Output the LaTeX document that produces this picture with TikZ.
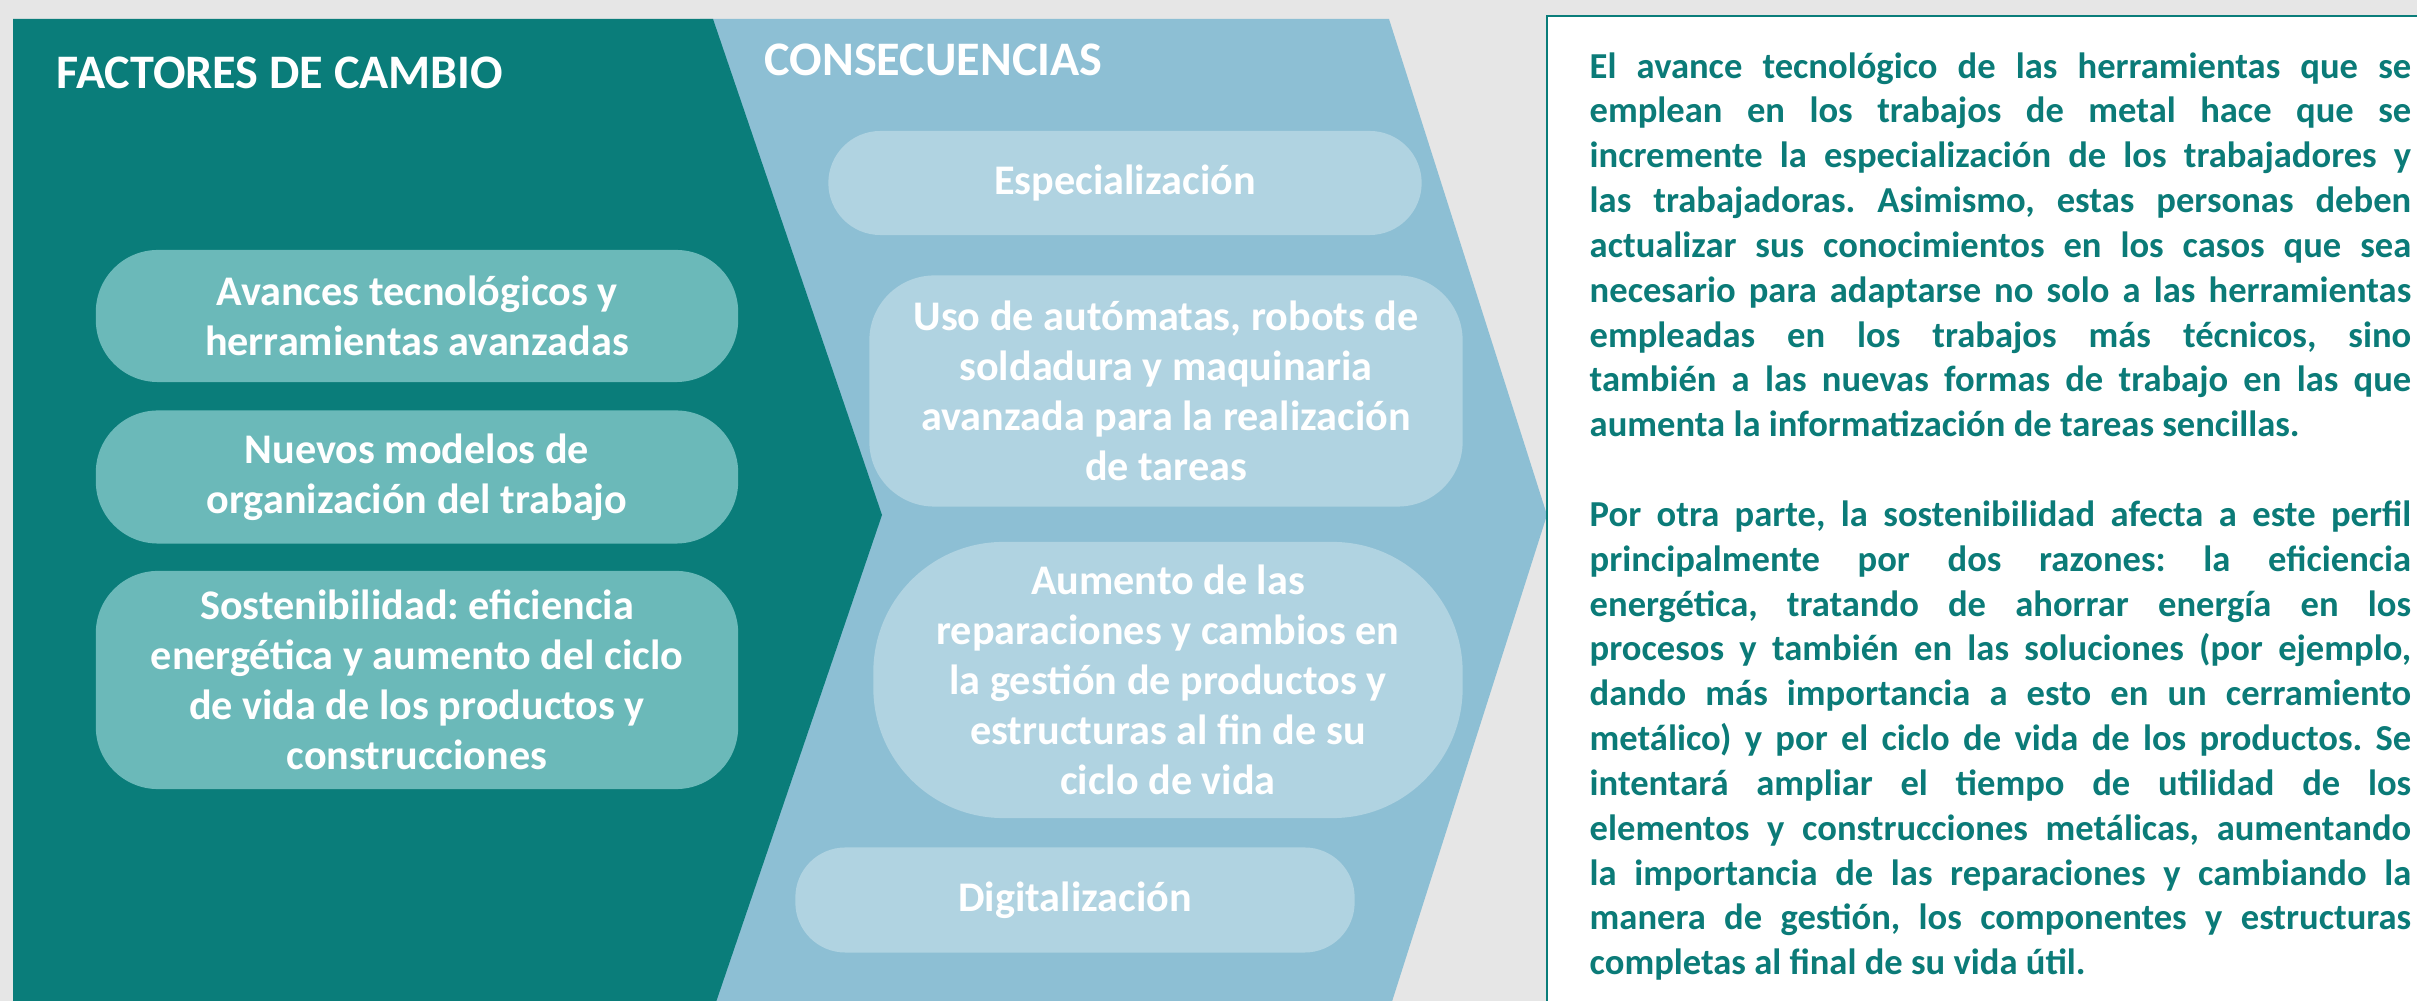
\documentclass[tikz,border=0pt]{standalone}
\usepackage{fontspec}
\setmainfont{Carlito}
\frenchspacing
\usetikzlibrary{positioning}

\definecolor{tealdark}{HTML}{0A7D7A}
\definecolor{bluechev}{HTML}{8DBFD4}
\definecolor{tealbox}{HTML}{6BB9B9}
\definecolor{bluebox}{HTML}{B0D3E1}
\definecolor{greybg}{HTML}{E6E6E6}
\definecolor{tealtext}{HTML}{0B7B78}

\tikzset{
  heading/.style={text=white, anchor=west, inner sep=0pt, font=\fontsize{13.7}{16}\selectfont\bfseries},
  factorbox/.style={fill=tealbox, rounded corners=0.62cm, minimum width=6.42cm, text=white, align=center, font=\fontsize{12}{14.2}\selectfont\bfseries},
  conbox/.style={fill=bluebox, rounded corners=0.6cm, text=white, align=center, font=\fontsize{12}{14.2}\selectfont\bfseries},
  bodytext/.style={text=tealtext, anchor=north west, inner sep=0pt, text width=8.21cm, align=justify, font=\fontsize{10.4}{12.75}\selectfont\bfseries},
}

\begin{document}
\begin{tikzpicture}[x=0.01cm, y=-0.01cm]
% Page with grey background
\path[use as bounding box, fill=greybg] (0,0) rectangle (2417,1001);
\clip (0,0) rectangle (2417,1001);

% Chevrons
\fill[bluechev] (700,19) -- (1389,19) -- (1547,515) -- (1389,1011) -- (700,1011) -- cycle;
\fill[tealdark] (13,19) -- (713,19) -- (882,515) -- (713,1011) -- (13,1011) -- cycle;

% Text frame on the right
\draw[tealdark, line width=0.8pt, fill=white] (1547,16) rectangle (2440,1030);

% Headings
\node[heading] (factores) at (56,73) {FACTORES DE CAMBIO};
\node[heading] (consec) at (764,60) {CONSECUENCIAS};

% Factors of change
\node[factorbox, minimum height=1.32cm] (avances) at (417,316) {Avances tecnológicos y\\herramientas avanzadas};
\node[factorbox, minimum height=1.33cm] (nuevos) at (417,477) {Nuevos modelos de\\organización del trabajo};
\node[factorbox, minimum height=2.18cm] (sosten) at (417,680) {Sostenibilidad: eficiencia\\energética y aumento del ciclo\\de vida de los productos y\\construcciones};

% Consequences
\node[conbox, minimum width=5.93cm, minimum height=1.04cm, rounded corners=0.52cm] (especial) at (1125,183) {Especialización};
\node[conbox, minimum width=5.93cm, minimum height=2.31cm, rounded corners=0.65cm] (automatas) at (1166,391) {Uso de autómatas, robots de\\soldadura y maquinaria\\avanzada para la realización\\de tareas};
\node[conbox, minimum width=5.89cm, minimum height=2.76cm, rounded corners=1.3cm] (reparac) at (1168,680) {Aumento de las\\reparaciones y cambios en\\la gestión de productos y\\estructuras al fin de su\\ciclo de vida};
\node[conbox, minimum width=5.59cm, minimum height=1.05cm, rounded corners=0.5cm] (digital) at (1075,900) {Digitalización};

% Explanation
\node[bodytext] (texto) at (1589,46) {\strut El avance tecnológico de las herramientas que se\linebreak
emplean en los trabajos de metal hace que se\linebreak
incremente la especialización de los trabajadores y\linebreak
las trabajadoras. Asimismo, estas personas deben\linebreak
actualizar sus conocimientos en los casos que sea\linebreak
necesario para adaptarse no solo a las herramientas\linebreak
empleadas en los trabajos más técnicos, sino\linebreak
también a las nuevas formas de trabajo en las que\linebreak
aumenta la informatización de tareas sencillas.\par
\vspace{\baselineskip}
Por otra parte, la sostenibilidad afecta a este perfil\linebreak
principalmente por dos razones: la eficiencia\linebreak
energética, tratando de ahorrar energía en los\linebreak
procesos y también en las soluciones (por ejemplo,\linebreak
dando más importancia a esto en un cerramiento\linebreak
metálico) y por el ciclo de vida de los productos. Se\linebreak
intentará ampliar el tiempo de utilidad de los\linebreak
elementos y construcciones metálicas, aumentando\linebreak
la importancia de las reparaciones y cambiando la\linebreak
manera de gestión, los componentes y estructuras\linebreak
completas al final de su vida útil.};
\end{tikzpicture}
\end{document}
